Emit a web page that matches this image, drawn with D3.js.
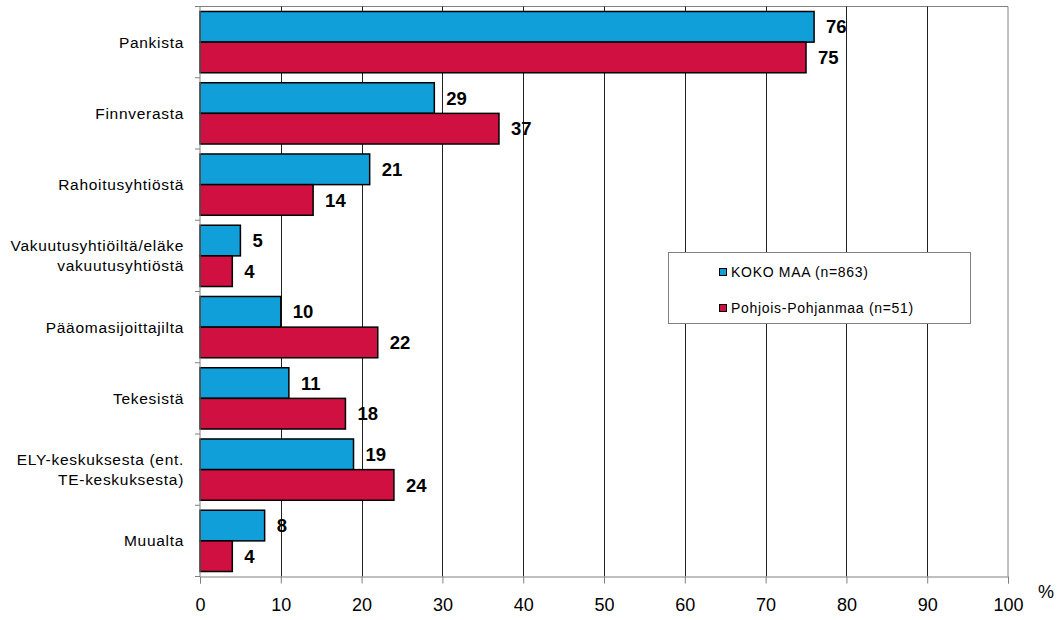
<!DOCTYPE html>
<html>
<head>
<meta charset="utf-8">
<script src="https://cdn.jsdelivr.net/npm/d3@7"></script>
<style>
  body { margin: 0; background: #fff; }
  text { font-family: "Liberation Sans", Arial, sans-serif; }
</style>
</head>
<body>
<svg id="chart" width="1061" height="620"></svg>
<script>
// category labels (line breaks as in the original)
var categories = [
  ["Pankista"],
  ["Finnverasta"],
  ["Rahoitusyhtiöstä"],
  ["Vakuutusyhtiöiltä/eläke", "vakuutusyhtiöstä"],
  ["Pääomasijoittajilta"],
  ["Tekesistä"],
  ["ELY-keskuksesta (ent.", "TE-keskuksesta)"],
  ["Muualta"]
];
var seriesNames = ["KOKO MAA (n=863)", "Pohjois-Pohjanmaa (n=51)"];
var kokoMaa = [76, 29, 21, 5, 10, 11, 19, 8];
var pohjoisPohjanmaa = [75, 37, 14, 4, 22, 18, 24, 4];
var xTicks = [0, 10, 20, 30, 40, 50, 60, 70, 80, 90, 100];
var colors = ["#109fd9", "#cf1040"];

var svg = d3.select("#chart");
var pLeft = 200, pRight = 1008, pTop = 6.5, pBottom = 576.5;

var x = d3.scaleLinear().domain([0, 100]).range([pLeft, pRight]);
var idx = d3.range(categories.length);
var y = d3.scaleBand().domain(idx).range([pTop, pBottom]).paddingInner(0.14).paddingOuter(0.07);
var ySub = d3.scaleBand().domain([0, 1]).range([0, y.bandwidth()]);
var step = (pBottom - pTop) / categories.length;

// plot frame (top and right) and vertical gridlines
svg.append("line").attr("x1", pLeft).attr("x2", pRight).attr("y1", pTop).attr("y2", pTop)
  .attr("stroke", "#808080");
svg.append("line").attr("x1", pRight).attr("x2", pRight).attr("y1", pTop).attr("y2", pBottom)
  .attr("stroke", "#808080");
svg.selectAll(".grid").data(xTicks.slice(1, -1)).enter().append("line")
  .attr("x1", d => Math.round(x(d)) + 0.5).attr("x2", d => Math.round(x(d)) + 0.5)
  .attr("y1", pTop).attr("y2", pBottom)
  .attr("stroke", "#202020");

// bars
var series = [kokoMaa, pohjoisPohjanmaa];
series.forEach(function(vals, s) {
  svg.selectAll(".bar" + s).data(vals).enter().append("rect")
    .attr("x", pLeft)
    .attr("y", (d, i) => y(i) + ySub(s))
    .attr("width", d => x(d) - pLeft)
    .attr("height", ySub.bandwidth())
    .attr("fill", colors[s])
    .attr("stroke", "#000")
    .attr("stroke-width", 1.5);
  svg.selectAll(".val" + s).data(vals).enter().append("text")
    .attr("x", d => x(d) + 12)
    .attr("y", (d, i) => y(i) + ySub(s) + ySub.bandwidth() / 2)
    .attr("dy", "0.36em")
    .attr("font-size", 18.5)
    .attr("font-weight", "bold")
    .attr("fill", "#000")
    .text(d => d);
});

// left axis with ticks at band boundaries
svg.append("line").attr("x1", pLeft).attr("x2", pLeft).attr("y1", pTop).attr("y2", pBottom)
  .attr("stroke", "#808080");
svg.selectAll(".ytick").data(d3.range(categories.length + 1)).enter().append("line")
  .attr("x1", pLeft - 5).attr("x2", pLeft)
  .attr("y1", d => pTop + d * step).attr("y2", d => pTop + d * step)
  .attr("stroke", "#808080");

// category labels
svg.selectAll(".cat").data(categories).enter().append("text")
  .attr("x", 184)
  .attr("y", (d, i) => pTop + (i + 0.5) * step - (d.length - 1) * 10)
  .attr("text-anchor", "end")
  .attr("font-size", 15.5)
  .attr("letter-spacing", 0.7)
  .attr("fill", "#000")
  .each(function(d) {
    var t = d3.select(this);
    d.forEach(function(line, k) {
      t.append("tspan").attr("x", 184).attr("dy", k === 0 ? "0.35em" : 20).text(line);
    });
  });

// bottom axis
var xAxis = svg.append("g").attr("transform", "translate(0," + pBottom + ")")
  .call(d3.axisBottom(x).tickValues(xTicks).tickSize(7).tickPadding(15));
xAxis.select(".domain").attr("stroke", "#808080");
xAxis.selectAll(".tick line").attr("stroke", "#808080");
xAxis.selectAll(".tick text").attr("font-size", 18).attr("fill", "#000")
  .style("font-family", "Liberation Sans, Arial, sans-serif");

svg.append("text").attr("x", 1046).attr("y", 598).attr("text-anchor", "middle")
  .attr("font-size", 18).text("%");

// legend
var lg = svg.append("g");
lg.append("rect").attr("x", 668.5).attr("y", 252.5).attr("width", 302).attr("height", 71)
  .attr("fill", "#fff").attr("stroke", "#808080");
seriesNames.forEach(function(name, s) {
  var cy = 272 + s * 36;
  lg.append("rect").attr("x", 719.5).attr("y", cy - 3.5).attr("width", 7).attr("height", 7)
    .attr("fill", colors[s]).attr("stroke", "#000");
  lg.append("text").attr("x", 731).attr("y", cy).attr("dy", "0.35em")
    .attr("font-size", 14).attr("letter-spacing", 0.7).attr("fill", "#000").text(name);
});
</script>
</body>
</html>
